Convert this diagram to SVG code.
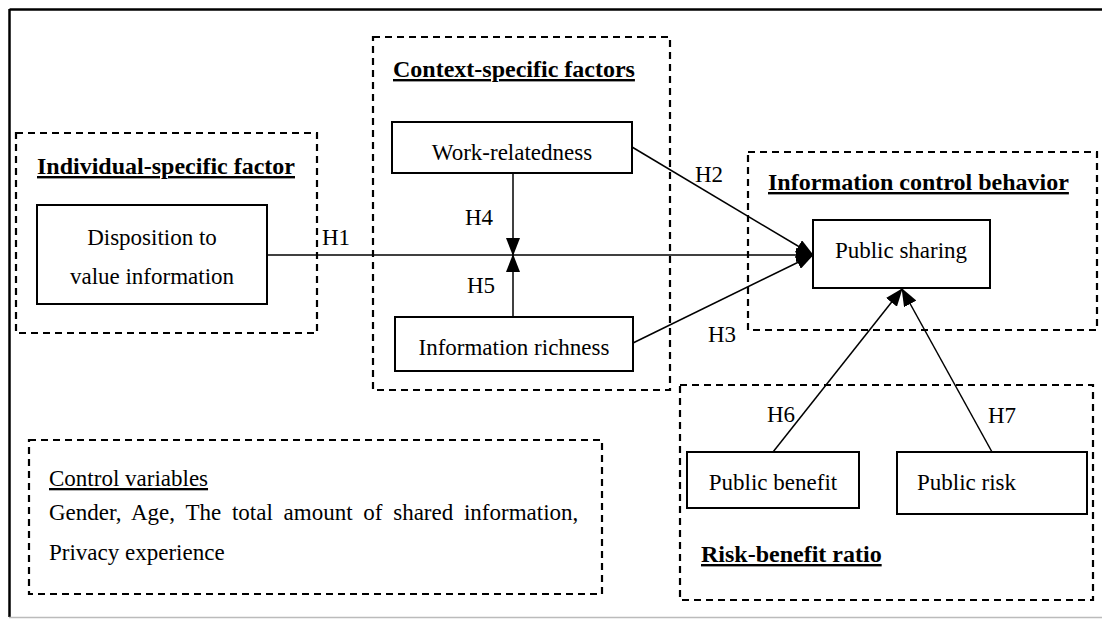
<svg xmlns="http://www.w3.org/2000/svg" width="1102" height="619" viewBox="0 0 1102 619">
<style>
text{font-family:"Liberation Serif","Times New Roman",serif;font-size:23px;fill:#000}
.t{font-weight:bold;font-size:24px;text-decoration:underline}
.u{text-decoration:underline}
.m{text-anchor:middle}
.grp{fill:none;stroke:#000;stroke-width:2.2;stroke-dasharray:7 5}
.box{fill:#fff;stroke:#000;stroke-width:2}
.c{fill:none;stroke:#000;stroke-width:1.5;marker-end:url(#ah)}
</style>
<defs>
<marker id="ah" markerUnits="userSpaceOnUse" markerWidth="18" markerHeight="14" viewBox="0 0 18 14" refX="17" refY="7" orient="auto">
<path d="M0,0 L18,7 L0,14 Z" fill="#000"/>
</marker>
</defs>
<rect width="1102" height="619" fill="#fff"/>
<g id="frame">
<line x1="9.5" y1="9.5" x2="1102" y2="9.5" stroke="#000" stroke-width="2.5"/>
<line x1="9.5" y1="9" x2="9.5" y2="617" stroke="#000" stroke-width="2.5"/>
<line x1="9" y1="617.5" x2="1102" y2="617.5" stroke="#bbb" stroke-width="1.5"/>
</g>
<g id="individual-group">
<rect class="grp" x="16" y="133" width="301" height="200"/>
<text class="t" x="37" y="174">Individual-specific factor</text>
</g>
<g id="context-group">
<rect class="grp" x="373" y="37" width="297" height="353"/>
<text class="t" x="393" y="77">Context-specific factors</text>
</g>
<g id="behavior-group">
<rect class="grp" x="748" y="152" width="349" height="178"/>
<text class="t" x="768" y="190">Information control behavior</text>
</g>
<g id="riskbenefit-group">
<rect class="grp" x="680" y="385" width="413" height="215"/>
<text class="t" x="701" y="562">Risk-benefit ratio</text>
</g>
<g id="control-variables">
<rect class="grp" x="29" y="440" width="573" height="154"/>
<text class="u" x="49" y="486">Control variables</text>
<text x="49" y="520" word-spacing="5">Gender, Age, The total amount of shared information,</text>
<text x="49" y="560">Privacy experience</text>
</g>
<g id="connectors">
<line class="c" x1="267" y1="255" x2="813" y2="255"/>
<line class="c" x1="632" y1="147" x2="813" y2="255"/>
<line class="c" x1="633" y1="343" x2="813" y2="255"/>
<line class="c" x1="513" y1="173" x2="513" y2="255"/>
<line class="c" x1="513" y1="317" x2="513" y2="255"/>
<line class="c" x1="773" y1="452" x2="902" y2="289"/>
<line class="c" x1="992" y1="452" x2="902" y2="289"/>
<text x="322" y="245">H1</text>
<text x="695" y="182">H2</text>
<text x="708" y="342">H3</text>
<text x="465" y="225">H4</text>
<text x="467" y="293">H5</text>
<text x="767" y="422">H6</text>
<text x="988" y="423">H7</text>
</g>
<g id="disposition">
<rect class="box" x="37" y="205" width="230" height="99"/>
<text class="m" x="152" y="245">Disposition to</text>
<text class="m" x="152" y="284">value information</text>
</g>
<g id="work-relatedness">
<rect class="box" x="392" y="122" width="240" height="51"/>
<text class="m" x="512" y="160">Work-relatedness</text>
</g>
<g id="information-richness">
<rect class="box" x="395" y="317" width="238" height="54"/>
<text class="m" x="514" y="355">Information richness</text>
</g>
<g id="public-sharing">
<rect class="box" x="813" y="220" width="177" height="68"/>
<text class="m" x="901" y="258">Public sharing</text>
</g>
<g id="public-benefit">
<rect class="box" x="687" y="452" width="172" height="56"/>
<text class="m" x="773" y="490">Public benefit</text>
</g>
<g id="public-risk">
<rect class="box" x="897" y="452" width="190" height="62"/>
<text x="917" y="490">Public risk</text>
</g>
</svg>
